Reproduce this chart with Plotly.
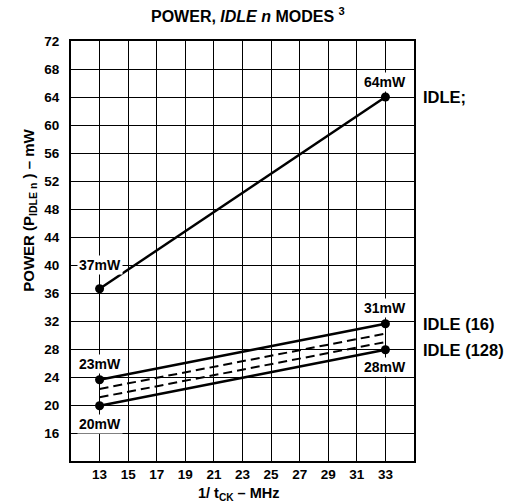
import plotly.graph_objects as go

# Data
freq = [13, 33]
idle_semi = [36.6, 64.0]        # IDLE;
idle16_top = [23.6, 31.6]       # IDLE (16) upper bound
idle_dash1 = [22.3, 30.2]
idle_dash2 = [21.1, 29.0]
idle128_bot = [19.9, 27.9]      # IDLE (128) lower bound

x_ticks = [13, 15, 17, 19, 21, 23, 25, 27, 29, 31, 33]
y_ticks = [16, 20, 24, 28, 32, 36, 40, 44, 48, 52, 56, 60, 64, 68, 72]

point_labels = [
    (13, idle_semi[0], "37mW", 24),
    (33, idle_semi[1], "64mW", 15),
    (33, idle16_top[1], "31mW", 16),
    (33, idle128_bot[1], "28mW", -17),
    (13, idle16_top[0], "23mW", 16),
    (13, idle128_bot[0], "20mW", -18),
]
side_labels = [
    (idle_semi[1], "IDLE;"),
    (idle16_top[1], "IDLE (16)"),
    (idle128_bot[1], "IDLE (128)"),
]

FONT = "Liberation Sans, Arial, sans-serif"

fig = go.Figure()
for ys in (idle_semi, idle16_top, idle128_bot):
    fig.add_trace(go.Scatter(x=freq, y=ys, mode="lines+markers",
                             line=dict(color="black", width=2.5),
                             marker=dict(color="black", size=9),
                             showlegend=False, hoverinfo="skip"))
for ys in (idle_dash1, idle_dash2):
    fig.add_trace(go.Scatter(x=freq, y=ys, mode="lines",
                             line=dict(color="black", width=2, dash="9px,5px"),
                             showlegend=False, hoverinfo="skip"))

annotations = []
for x, y, t, dy in point_labels:
    annotations.append(dict(x=x, y=y, xref="x", yref="y", text=t, showarrow=False,
                            yshift=dy, bgcolor="white", borderpad=1,
                            font=dict(family=FONT, size=14, color="black", weight="bold")))
for y, t in side_labels:
    annotations.append(dict(x=1.02, y=y, xref="paper", yref="y", text=t, showarrow=False,
                            xanchor="left", yanchor="middle",
                            font=dict(family=FONT, size=16.5, color="black", weight="bold")))
annotations.append(dict(x=0.515, y=1.061, xref="paper", yref="paper",
                        text="POWER, <i>IDLE n</i> MODES <sup>3</sup>", showarrow=False,
                        xanchor="center", yanchor="middle",
                        font=dict(family=FONT, size=16, color="black", weight="bold")))
annotations.append(dict(x=-0.121, y=0.597, xref="paper", yref="paper",
                        text="POWER (P<sub>IDLE n</sub> ) – mW", showarrow=False, textangle=-90,
                        xanchor="center", yanchor="middle",
                        font=dict(family=FONT, size=15, color="black", weight="bold")))
annotations.append(dict(x=0.489, y=-0.078, xref="paper", yref="paper",
                        text="1/ t<sub>CK</sub> – MHz", showarrow=False,
                        xanchor="center", yanchor="middle",
                        font=dict(family=FONT, size=14.5, color="black", weight="bold")))

fig.update_layout(
    width=505, height=504,
    margin=dict(l=70.5, r=91, t=40.7, b=43.3),
    paper_bgcolor="white", plot_bgcolor="white",
    annotations=annotations,
    xaxis=dict(range=[11, 35], tickvals=x_ticks, ticktext=[str(v) for v in x_ticks],
               showgrid=True, gridcolor="black", gridwidth=1, zeroline=False,
               showline=True, linecolor="black", linewidth=2, mirror=True,
               ticks="", tickfont=dict(family=FONT, size=13.5, color="black", weight="bold")),
    yaxis=dict(range=[12, 72], tickvals=y_ticks, ticktext=[str(v) for v in y_ticks],
               showgrid=True, gridcolor="black", gridwidth=1, zeroline=False,
               showline=True, linecolor="black", linewidth=2, mirror=True,
               ticks="", ticklen=0, ticklabelstandoff=7,
               tickfont=dict(family=FONT, size=13.5, color="black", weight="bold")),
)
fig.write_html("out.html", config={"displayModeBar": False},
               post_script="document.body.style.margin='0';document.body.style.overflow='hidden';")
